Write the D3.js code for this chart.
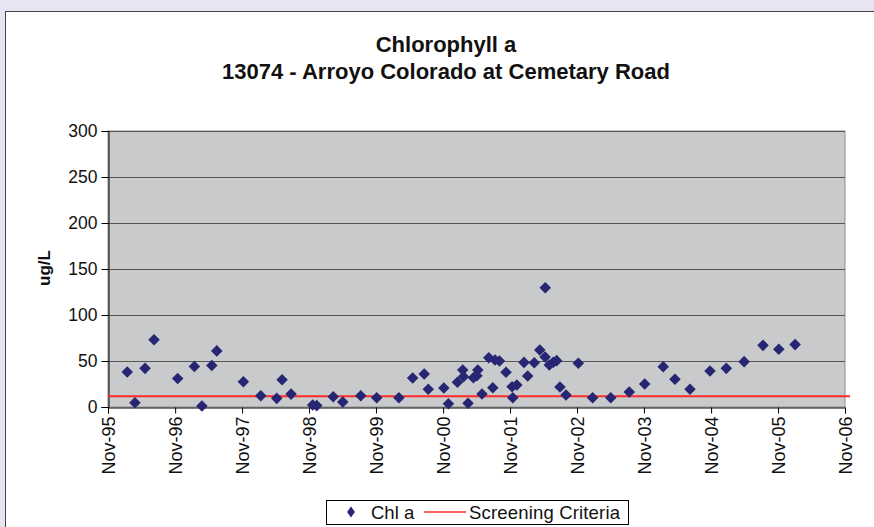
<!DOCTYPE html>
<html>
<head>
<meta charset="utf-8">
<script src="https://cdn.jsdelivr.net/npm/d3@7"></script>
<style>
  body { margin: 0; background: #e8e4f2; }
  svg { display: block; font-family: "Liberation Sans", Arial, sans-serif; }
</style>
</head>
<body>
<svg id="chart" width="874" height="527"></svg>
<script>
// sample dates and chlorophyll a values (ug/L)
const sampleDates = [
  "1996-02-14", "1996-03-27", "1996-05-21", "1996-07-09", "1996-11-15",
  "1997-02-14", "1997-03-27", "1997-05-20", "1997-06-16", "1997-11-08",
  "1998-02-11", "1998-05-09", "1998-06-07", "1998-07-26", "1998-11-21",
  "1998-12-13", "1999-03-13", "1999-05-04", "1999-08-10", "1999-11-05",
  "2000-03-05", "2000-05-19", "2000-07-21", "2000-08-12", "2000-11-05",
  "2000-11-30", "2001-01-18", "2001-02-16", "2001-02-20", "2001-03-17",
  "2001-04-15", "2001-05-04", "2001-05-09", "2001-06-01", "2001-07-08",
  "2001-07-30", "2001-08-11", "2001-09-04", "2001-10-10", "2001-11-12",
  "2001-11-16", "2001-12-08", "2002-01-16", "2002-02-05", "2002-03-13",
  "2002-04-12", "2002-05-12", "2002-05-11", "2002-06-03", "2002-06-25",
  "2002-07-13", "2002-07-31", "2002-09-02", "2002-11-08", "2003-01-25",
  "2003-05-04", "2003-08-13", "2003-11-05", "2004-02-14", "2004-04-18",
  "2004-07-09", "2004-10-26", "2005-01-23", "2005-04-30", "2005-08-11",
  "2005-11-05", "2006-02-02"
];
const chlValues = [
  38, 4.7, 42, 73, 31,
  44, 1, 45, 61, 27.5,
  12.3, 9.4, 29.7, 14, 2.2,
  1.5, 11.2, 5.4, 12.3, 10.1,
  10.1, 31.5, 35.8, 19.2, 20.7,
  3.6, 26.8, 40.2, 33, 4,
  31.9, 34, 40.2, 14.1, 53.6,
  21, 51, 50, 37.7, 22.1,
  10.1, 23.9, 48.5, 33.7, 48,
  62, 129.7, 54.3, 45.7, 48.6,
  50.4, 21.7, 13, 47.5, 10.1,
  10.1, 16.3, 25, 43.8, 30.1,
  19.2, 39.1, 42, 49.3, 67,
  62.7, 67.8
];
const screeningCriteria = 11.6;
const yTicks = [0, 50, 100, 150, 200, 250, 300];
const xStart = "1995-11-01", xEnd = "2006-11-01";
const titleLines = ["Chlorophyll a", "13074 - Arroyo Colorado at Cemetary Road"];

const parse = d3.timeParse("%Y-%m-%d");
const points = sampleDates.map((d, i) => ({ date: parse(d), value: chlValues[i] }));

const svg = d3.select("#chart");
const plot = { left: 108, top: 131, right: 845, bottom: 407 };

// white chart frame
svg.append("rect")
  .attr("x", 5.5).attr("y", 11.5)
  .attr("width", 870).attr("height", 530)
  .attr("fill", "#fff").attr("stroke", "#444");

const x = d3.scaleTime()
  .domain([parse(xStart), parse(xEnd)])
  .range([plot.left, plot.right]);
const y = d3.scaleLinear()
  .domain([0, 300])
  .range([plot.bottom, plot.top]);

// plot area
svg.append("rect")
  .attr("x", plot.left).attr("y", plot.top)
  .attr("width", plot.right - plot.left).attr("height", plot.bottom - plot.top)
  .attr("fill", "#c9cacc").attr("stroke", "#909090");

// gridlines
svg.append("g").selectAll("line")
  .data(yTicks.filter(t => t > 0))
  .enter().append("line")
  .attr("x1", plot.left).attr("x2", plot.right)
  .attr("y1", d => y(d) + 0.5).attr("y2", d => y(d) + 0.5)
  .attr("stroke", "#555").attr("stroke-width", 1);

// title
svg.append("g").selectAll("text")
  .data(titleLines)
  .enter().append("text")
  .attr("x", 446).attr("y", (d, i) => 52 + i * 27)
  .attr("text-anchor", "middle")
  .attr("font-size", 22).attr("font-weight", "bold")
  .attr("fill", "#111")
  .text(d => d);

// y axis
const yAxis = svg.append("g")
  .attr("transform", `translate(${plot.left + 0.5},0)`)
  .call(d3.axisLeft(y).tickValues(yTicks).tickSize(7).tickPadding(4));
yAxis.select(".domain").attr("stroke", "#000");
yAxis.selectAll(".tick line").attr("stroke", "#000");
yAxis.selectAll("text").attr("font-size", 17.5).attr("fill", "#111")
  .attr("font-family", "Liberation Sans, Arial, sans-serif");

svg.append("text")
  .attr("transform", "translate(50,268) rotate(-90)")
  .attr("text-anchor", "middle")
  .attr("font-size", 17).attr("font-weight", "bold").attr("fill", "#111")
  .text("ug/L");

// x axis
const xTicks = d3.timeYear.range(parse("1995-01-01"), parse("2007-01-01"))
  .map(d => new Date(d.getFullYear(), 10, 1));
const xAxis = svg.append("g")
  .attr("transform", `translate(0,${plot.bottom + 0.5})`)
  .call(d3.axisBottom(x).tickValues(xTicks).tickSize(6).tickFormat(d3.timeFormat("%b-%y")));
xAxis.select(".domain").attr("stroke", "#000");
xAxis.selectAll(".tick line").attr("stroke", "#000");
xAxis.selectAll("text")
  .attr("font-size", 18).attr("fill", "#111")
  .attr("font-family", "Liberation Sans, Arial, sans-serif")
  .attr("text-anchor", "end")
  .attr("transform", "rotate(-90)")
  .attr("x", -9).attr("y", 0).attr("dy", "0.35em");

// screening criteria line
svg.append("line")
  .attr("x1", plot.left).attr("x2", plot.right + 5)
  .attr("y1", y(screeningCriteria)).attr("y2", y(screeningCriteria))
  .attr("stroke", "#ff2a2a").attr("stroke-width", 2);

// points
const diamond = d3.symbol().type(d3.symbolDiamond2).size(85);
svg.append("g").selectAll("path")
  .data(points)
  .enter().append("path")
  .attr("d", diamond)
  .attr("transform", d => `translate(${x(d.date)},${y(d.value)})`)
  .attr("fill", "#262673");

// legend
const legend = svg.append("g");
legend.append("rect")
  .attr("x", 326.5).attr("y", 500.5).attr("width", 302).attr("height", 24)
  .attr("fill", "#fff").attr("stroke", "#000");
legend.append("path")
  .attr("d", d3.symbol().type(d3.symbolDiamond2).size(60))
  .attr("transform", "translate(351,512) scale(0.8,1.15)")
  .attr("fill", "#262673");
legend.append("text").attr("x", 371).attr("y", 519)
  .attr("font-size", 18.5).attr("fill", "#111").text("Chl a");
legend.append("line")
  .attr("x1", 424).attr("x2", 466).attr("y1", 512).attr("y2", 512)
  .attr("stroke", "#ff2a2a").attr("stroke-width", 1.5);
legend.append("text").attr("x", 469).attr("y", 519)
  .attr("font-size", 18.5).attr("fill", "#111")
  .attr("textLength", 151).text("Screening Criteria");
</script>
</body>
</html>
